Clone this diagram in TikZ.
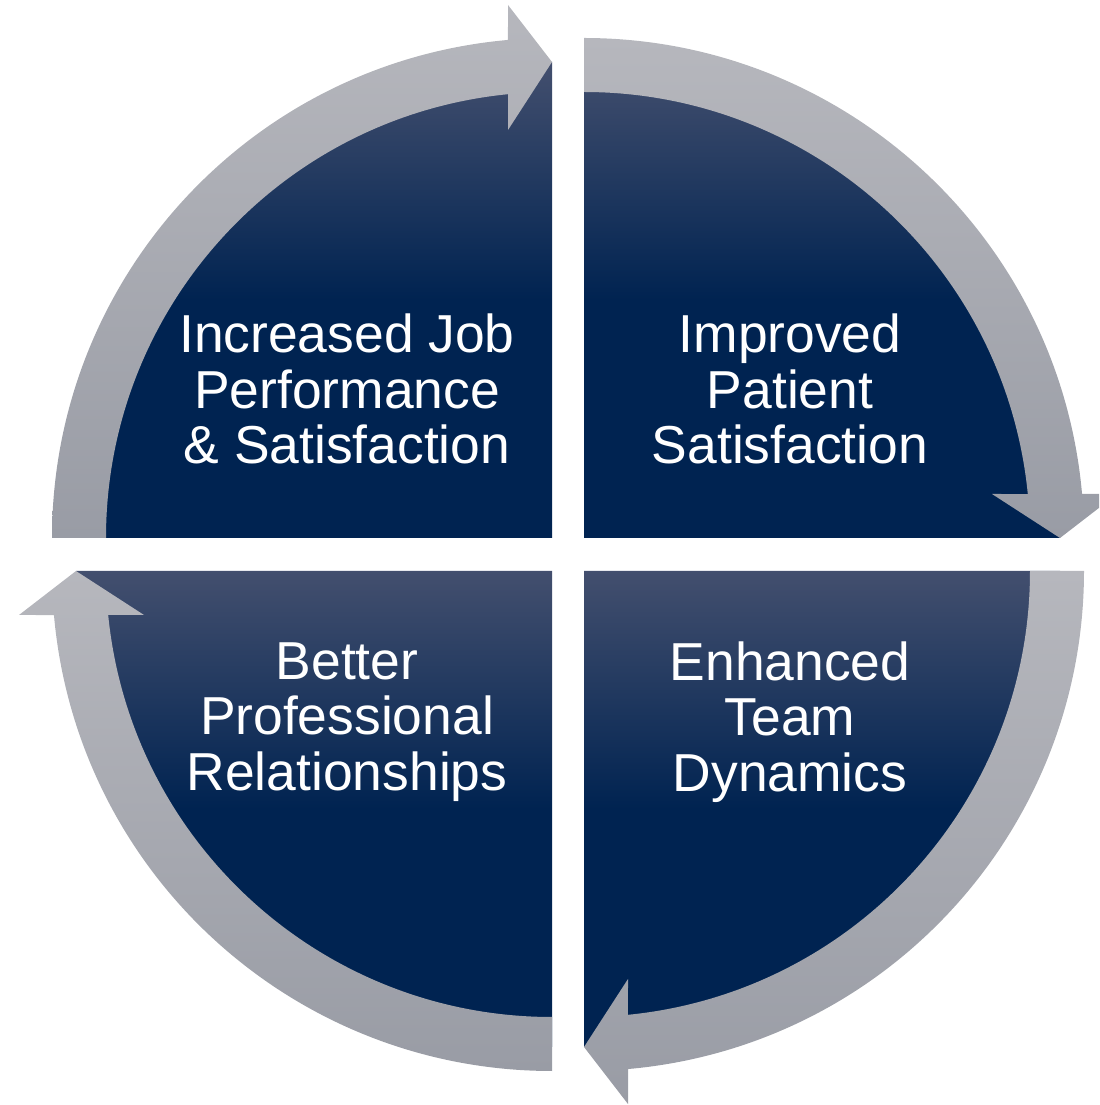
\documentclass[tikz,border=0pt]{standalone}
\usepackage{fontspec}
\setmainfont{Liberation Sans}
\usepackage{tikz}
\definecolor{navy}{HTML}{002351}
\definecolor{navytop}{HTML}{434F6E}
\definecolor{bandlt}{HTML}{B6B7BD}
\definecolor{banddk}{HTML}{999CA5}

\begin{document}
\begin{tikzpicture}[disc/.style={top color=navytop, bottom color=navy, middle color=navy},
  band/.style={top color=bandlt, bottom color=banddk},
  quadtext/.style={text=white, align=center, inner sep=0pt, font=\fontsize{15.2}{15.8}\selectfont}]
\useasboundingbox (0,0) rectangle (10.99,11.05);
\clip (0,0) rectangle (10.99,11.05);
% Top left quarter
\begin{scope}[shift={(5.52,5.67)}]
\path[disc] (0,0) -- (180:4.76) arc[start angle=180, end angle=90, radius=4.76] -- cycle;
\path[band] (180:5) arc[start angle=180, end angle=95.05, radius=5] -- (-0.44,5.33) -- (0,4.76)
  -- (-0.44,4.08) -- (95.66:4.46) arc[start angle=95.66, end angle=180, radius=4.46] -- cycle;
\end{scope}
% Top right quarter
\begin{scope}[shift={(5.84,5.67)}]
\path[disc] (0,0) -- (90:4.76) arc[start angle=90, end angle=0, radius=4.76] -- cycle;
\path[band] (90:5) arc[start angle=90, end angle=5.05, radius=5] -- (5.33,0.44) -- (4.76,0)
  -- (4.08,0.44) -- (5.66:4.46) arc[start angle=5.66, end angle=90, radius=4.46] -- cycle;
\end{scope}
% Bottom right quarter
\begin{scope}[shift={(5.84,5.34)}]
\path[disc] (0,0) -- (0:4.76) arc[start angle=0, end angle=-90, radius=4.76] -- cycle;
\path[band] (0:5) arc[start angle=0, end angle=-84.95, radius=5] -- (0.44,-5.33) -- (0,-4.76)
  -- (0.44,-4.08) -- (-84.34:4.46) arc[start angle=-84.34, end angle=0, radius=4.46] -- cycle;
\end{scope}
% Bottom left quarter
\begin{scope}[shift={(5.52,5.34)}]
\path[disc] (0,0) -- (-90:4.76) arc[start angle=-90, end angle=-180, radius=4.76] -- cycle;
\path[band] (-90:5) arc[start angle=-90, end angle=-174.95, radius=5] -- (-5.33,-0.44) -- (-4.76,0)
  -- (-4.08,-0.44) -- (-174.34:4.46) arc[start angle=-174.34, end angle=-90, radius=4.46] -- cycle;
\end{scope}
% Labels
\node[quadtext] (job) at (3.47,7.16) {Increased Job\\Performance\\\& Satisfaction};
\node[quadtext] (patient) at (7.90,7.16) {Improved\\Patient\\Satisfaction};
\node[quadtext] (team) at (7.90,3.83) {Enhanced\\Team\\Dynamics};
\node[quadtext] (relation) at (3.47,3.83) {Better\\Professional\\Relationships};
\end{tikzpicture}
\end{document}
